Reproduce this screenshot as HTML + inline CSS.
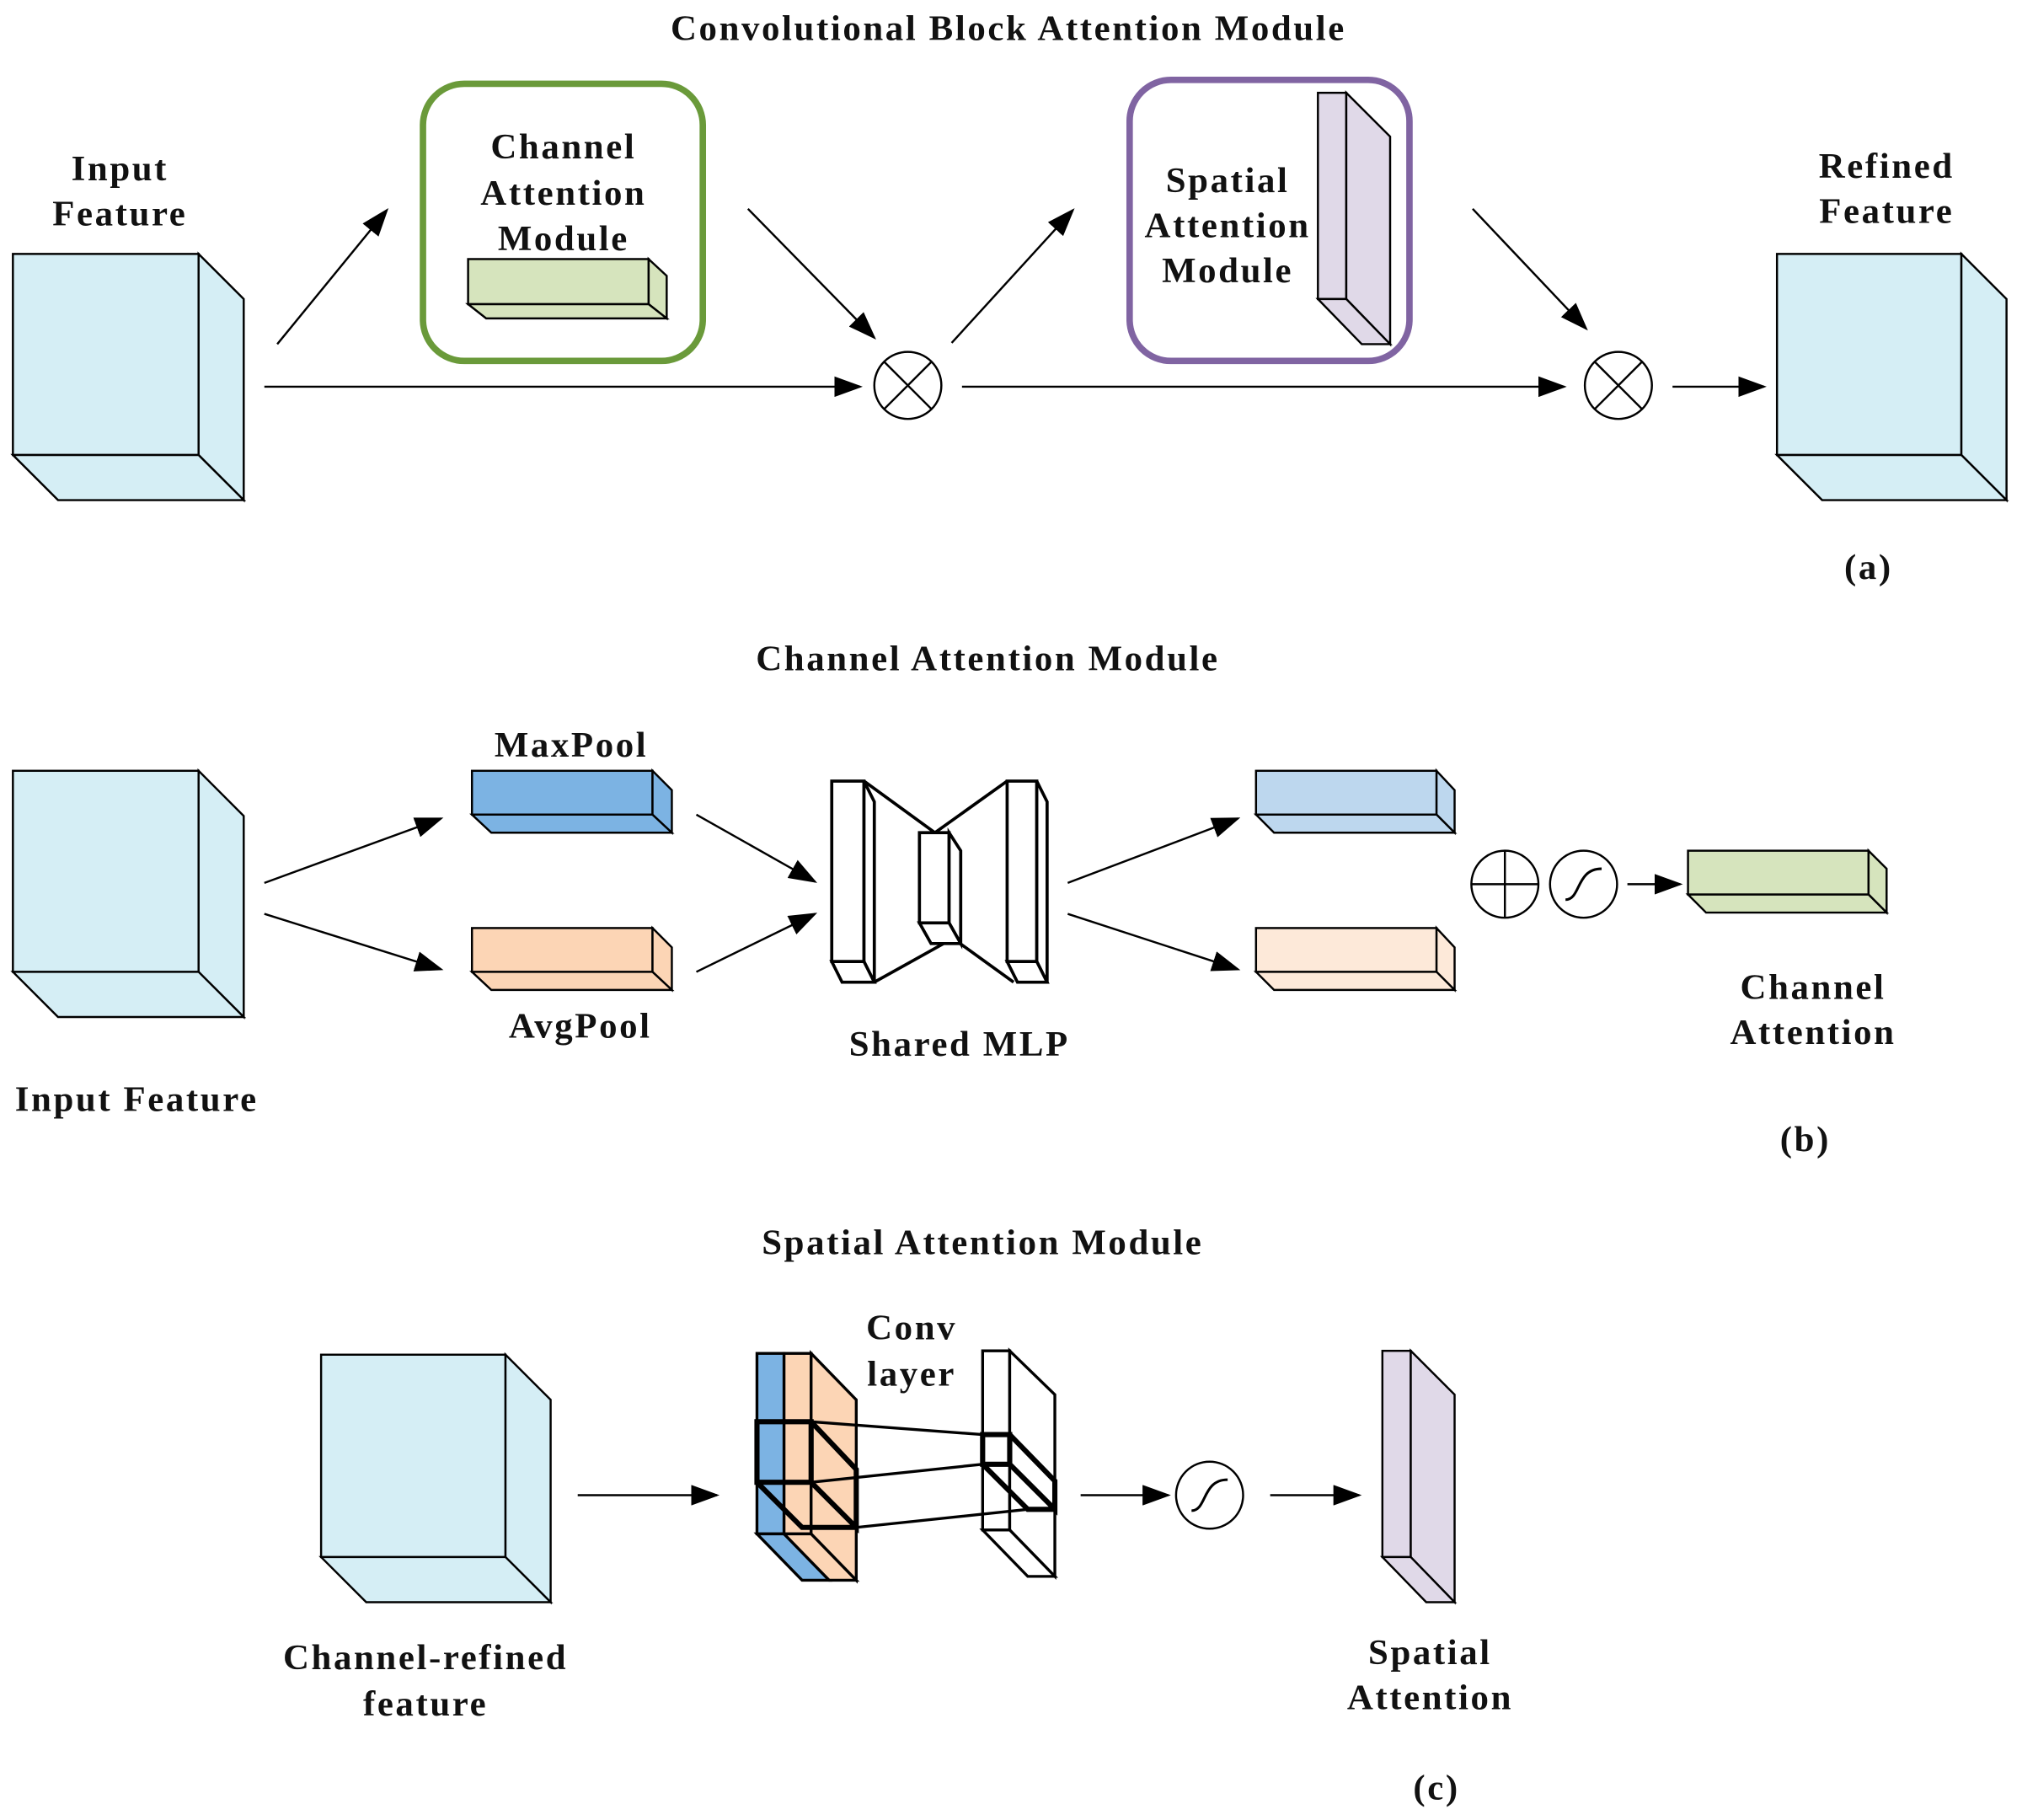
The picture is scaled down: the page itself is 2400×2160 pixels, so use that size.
<!DOCTYPE html>
<html><head><meta charset="utf-8"><style>html,body{margin:0;padding:0;background:#fff}svg{display:block}text{font-family:"Liberation Serif",serif;font-weight:bold;font-size:28px;letter-spacing:1.7px;fill:#111;text-anchor:middle}</style></head><body>
<svg width="2400" height="2160" viewBox="0 0 1568 1412" preserveAspectRatio="none" xmlns="http://www.w3.org/2000/svg">
<defs><marker id="a" markerUnits="userSpaceOnUse" markerWidth="22" markerHeight="16" refX="20" refY="8" orient="auto"><path d="M0,0 L22,8 L0,16 Z" fill="#000"/></marker></defs>
<g stroke="#000" stroke-width="1.6" fill="none" stroke-linejoin="miter">
<g fill="#d5eef5"><rect x="10" y="197" width="144" height="156"/><path d="M154,197 L189,232 L189,388 L154,353Z"/><path d="M10,353 L45,388 L189,388 L154,353Z"/></g>
<rect x="328" y="65" width="217" height="215" rx="32" stroke="#6a9a3a" stroke-width="5"/>
<g fill="#d6e4bd"><rect x="363" y="201" width="140" height="35"/><path d="M503,201 L517,214 L517,247 L503,236Z"/><path d="M363,236 L377,247 L517,247 L503,236Z"/></g>
<rect x="876" y="62" width="217" height="218" rx="32" stroke="#8064a2" stroke-width="5"/>
<g fill="#e0d9e8"><rect x="1022" y="72" width="22" height="160"/><path d="M1044,72 L1078,106 L1078,267 L1044,232Z"/><path d="M1022,232 L1056,267 L1078,267 L1044,232Z"/></g>
<g fill="#d5eef5"><rect x="1378" y="197" width="143" height="156"/><path d="M1521,197 L1556,232 L1556,388 L1521,353Z"/><path d="M1378,353 L1413,388 L1556,388 L1521,353Z"/></g>
<g marker-end="url(#a)"><line x1="215" y1="267" x2="300" y2="163"/><line x1="580" y1="162" x2="678" y2="262"/><line x1="205" y1="300" x2="667" y2="300"/><line x1="738" y1="266" x2="832" y2="163"/><line x1="1142" y1="162" x2="1230" y2="255"/><line x1="746" y1="300" x2="1213" y2="300"/><line x1="1297" y1="300" x2="1368" y2="300"/></g>
<circle cx="704" cy="299" r="26"/><path d="M686,281 L722,317 M722,281 L686,317"/>
<circle cx="1255" cy="299" r="26"/><path d="M1237,281 L1273,317 M1273,281 L1237,317"/>
<g fill="#d5eef5"><rect x="10" y="598" width="144" height="156"/><path d="M154,598 L189,633 L189,789 L154,754Z"/><path d="M10,754 L45,789 L189,789 L154,754Z"/></g>
<g fill="#7cb3e3"><rect x="366" y="598" width="140" height="34"/><path d="M506,598 L521,613 L521,646 L506,632Z"/><path d="M366,632 L381,646 L521,646 L506,632Z"/></g>
<g fill="#fcd5b5"><rect x="366" y="720" width="140" height="34"/><path d="M506,720 L521,735 L521,768 L506,754Z"/><path d="M366,754 L381,768 L521,768 L506,754Z"/></g>
<g fill="#bdd7ee"><rect x="974" y="598" width="140" height="34"/><path d="M1114,598 L1128,613 L1128,646 L1114,632Z"/><path d="M974,632 L988,646 L1128,646 L1114,632Z"/></g>
<g fill="#fde9d9"><rect x="974" y="720" width="140" height="34"/><path d="M1114,720 L1128,735 L1128,768 L1114,754Z"/><path d="M974,754 L988,768 L1128,768 L1114,754Z"/></g>
<g fill="#d6e4bd"><rect x="1309" y="660" width="140" height="34"/><path d="M1449,660 L1463,674 L1463,708 L1449,694Z"/><path d="M1309,694 L1323,708 L1463,708 L1449,694Z"/></g>
<g stroke-width="2.4" fill="#fff">
<rect x="645" y="606" width="25" height="140"/><path d="M670,606 L678,622 L678,762 L670,746Z"/><path d="M645,746 L653,762 L678,762 L670,746Z"/>
<rect x="781" y="606" width="23" height="140"/><path d="M804,606 L812,622 L812,762 L804,746Z"/><path d="M781,746 L789,762 L812,762 L804,746Z"/>
<path d="M670,606 L725,646 L781,606 M678,762 L739,728 L786,762" fill="none"/>
<rect x="713" y="646" width="23" height="70"/><path d="M736,646 L745,660 L745,732 L736,716Z"/><path d="M713,716 L722,732 L745,732 L736,716Z"/>
</g>
<g marker-end="url(#a)"><line x1="205" y1="685" x2="342" y2="635"/><line x1="205" y1="709" x2="342" y2="752"/><line x1="540" y1="632" x2="632" y2="684"/><line x1="540" y1="754" x2="632" y2="709"/><line x1="828" y1="685" x2="960" y2="635"/><line x1="828" y1="709" x2="960" y2="752"/><line x1="1262" y1="686" x2="1303" y2="686"/></g>
<circle cx="1167" cy="686" r="26"/><path d="M1141,686 L1193,686 M1167,660 L1167,712"/>
<circle cx="1228" cy="686" r="26"/><path d="M1214,698 C1226,698 1222,674 1242,674" stroke-width="2"/>
<g fill="#d5eef5"><rect x="249" y="1051" width="143" height="157"/><path d="M392,1051 L427,1086 L427,1243 L392,1208Z"/><path d="M249,1208 L284,1243 L427,1243 L392,1208Z"/></g>
<g stroke-width="2.2">
<rect x="587" y="1050" width="21" height="140" fill="#7cb3e3"/><path d="M587,1190 L608,1190 L643,1226 L622,1226Z" fill="#7cb3e3"/>
<rect x="608" y="1050" width="21" height="140" fill="#fcd5b5"/><path d="M629,1050 L664,1086 L664,1226 L629,1190Z" fill="#fcd5b5"/><path d="M608,1190 L629,1190 L664,1226 L643,1226Z" fill="#fcd5b5"/>
<path d="M587,1103 L629,1103 L629,1150 L587,1150Z M629,1103 L664,1140 L664,1185 L629,1150 M587,1150 L622,1185 L664,1185" stroke-width="4"/>
<rect x="762" y="1048" width="21" height="139" fill="#fff"/><path d="M783,1048 L818,1082 L818,1223 L783,1187Z" fill="#fff"/><path d="M762,1187 L783,1187 L818,1223 L797,1223Z" fill="#fff"/>
<path d="M762,1113 L783,1113 L783,1136 L762,1136Z M783,1113 L818,1149 L818,1171 L783,1136 M762,1136 L797,1171 L818,1171" stroke-width="4"/>
<path d="M629,1103 L762,1113 M629,1150 L762,1136 M664,1185 L797,1171"/>
</g>
<g fill="#e0d9e8"><rect x="1072" y="1048" width="22" height="160"/><path d="M1094,1048 L1128,1082 L1128,1243 L1094,1208Z"/><path d="M1072,1208 L1106,1243 L1128,1243 L1094,1208Z"/></g>
<g marker-end="url(#a)"><line x1="448" y1="1160" x2="556" y2="1160"/><line x1="838" y1="1160" x2="906" y2="1160"/><line x1="985" y1="1160" x2="1054" y2="1160"/></g>
<circle cx="938" cy="1160" r="26"/><path d="M924,1172 C936,1172 932,1148 952,1148" stroke-width="2"/>
</g>
<text x="782" y="31">Convolutional Block Attention Module</text>
<text x="93" y="140">Input</text><text x="93" y="175">Feature</text>
<text x="437" y="123">Channel</text><text x="437" y="159">Attention</text><text x="437" y="194">Module</text>
<text x="952" y="149">Spatial</text><text x="952" y="184">Attention</text><text x="952" y="219">Module</text>
<text x="1463" y="138">Refined</text><text x="1463" y="173">Feature</text>
<text x="1449" y="449">(a)</text>
<text x="766" y="520">Channel Attention Module</text>
<text x="443" y="587">MaxPool</text><text x="450" y="805">AvgPool</text>
<text x="744" y="819">Shared MLP</text>
<text x="1406" y="775">Channel</text><text x="1406" y="810">Attention</text>
<text x="106" y="862">Input Feature</text>
<text x="1400" y="893">(b)</text>
<text x="762" y="973">Spatial Attention Module</text>
<text x="707" y="1039">Conv</text><text x="707" y="1075">layer</text>
<text x="330" y="1295">Channel-refined</text><text x="330" y="1331">feature</text>
<text x="1109" y="1291">Spatial</text><text x="1109" y="1326">Attention</text>
<text x="1114" y="1396">(c)</text>
</svg>
</body></html>
